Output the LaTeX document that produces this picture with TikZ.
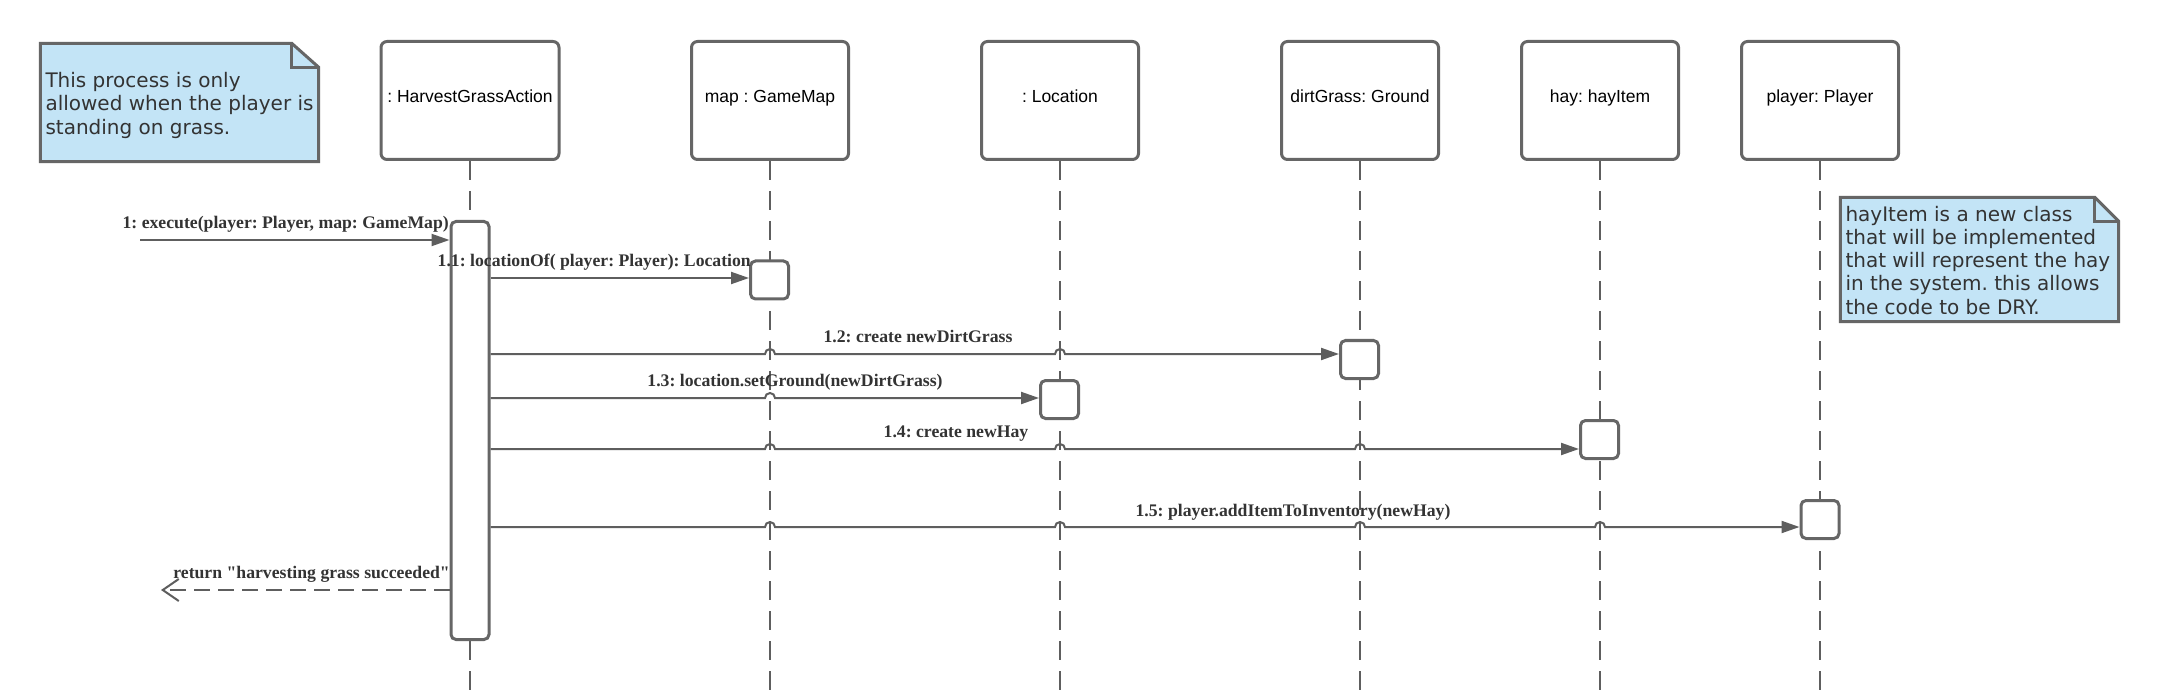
\documentclass[tikz,border=0pt]{standalone}
\usepackage{fontspec}
\setmainfont{Liberation Serif}
\newfontfamily\boxfont{Liberation Sans}
\newfontfamily\notefont{DejaVu Sans}
\usetikzlibrary{arrows.meta}
\definecolor{lc}{HTML}{5E5E5E}
\definecolor{bc}{HTML}{666666}
\definecolor{tc}{HTML}{333333}
\definecolor{notefill}{HTML}{C3E4F6}
\begin{document}
\frenchspacing
\begin{tikzpicture}[x=1pt,y=-1pt,
 head/.style={draw=bc,line width=3pt,rounded corners=6pt,fill=white,minimum width=157pt,minimum height=118pt,inner sep=0pt,text height=13pt,text depth=8pt,font=\boxfont\fontsize{17.5}{21}\selectfont,text=black},
 act/.style={draw=bc,line width=3pt,rounded corners=5pt,fill=white,minimum width=38pt,minimum height=38pt,inner sep=0pt},
 life/.style={draw=lc,line width=2pt,dash pattern=on 19pt off 11pt},
 msg/.style={draw=lc,line width=2pt,-{Triangle[length=18pt,width=12pt]}},
 ret/.style={draw=lc,line width=2pt,dash pattern=on 16pt off 8pt,-{Straight Barb[length=16pt,width=22pt]}},
 lbl/.style={font=\fontsize{17.7}{20}\selectfont\bfseries\frenchspacing,text=tc,inner sep=0pt},
 notebox/.style={minimum width=278pt,inner sep=0pt},
 noteline/.style={draw=bc,line width=3pt,line join=miter},
 notetext/.style={font=\notefont\fontsize{20}{23.3}\selectfont\frenchspacing,text=tc,align=left,inner sep=0pt}
]
\useasboundingbox[fill=white] (0,0) rectangle (2167,692);

% notes
\node[notebox,minimum height=118pt] (n1) at (179.5,102.5) {};
\draw[noteline,fill=notefill] (n1.north west) -- ([xshift=-27pt]n1.north east) -- ([yshift=-24pt]n1.north east) -- (n1.south east) -- (n1.south west) -- cycle;
\draw[noteline] ([xshift=-27pt]n1.north east) -- ([xshift=-27pt,yshift=-24pt]n1.north east) -- ([yshift=-24pt]n1.north east);
\node[notetext,anchor=west] (t1) at ([xshift=5pt,yshift=-2.7pt]n1.west) {This process is only\\allowed when the player is\\standing on grass.};

\node[notebox,minimum height=124pt] (n2) at (1979.5,259.5) {};
\draw[noteline,fill=notefill] (n2.north west) -- ([xshift=-24pt]n2.north east) -- ([yshift=-24pt]n2.north east) -- (n2.south east) -- (n2.south west) -- cycle;
\draw[noteline] ([xshift=-24pt]n2.north east) -- ([xshift=-24pt,yshift=-24pt]n2.north east) -- ([yshift=-24pt]n2.north east);
\node[notetext,anchor=west] (t2) at ([xshift=5pt,yshift=-0.7pt]n2.west) {hayItem is a new class\\that will be implemented\\that will represent the hay\\in the system. this allows\\the code to be DRY.};

% heads
\node[head,minimum width=178pt] (h1) at (470,100.5) {: HarvestGrassAction};
\node[head] (h2) at (770,100.5) {map : GameMap};
\node[head] (h3) at (1060,100.5) {: Location};
\node[head] (h4) at (1360,100.5) {dirtGrass: Ground};
\node[head] (h5) at (1600,100.5) {hay: hayItem};
\node[head] (h6) at (1820,100.5) {player: Player};

% lifelines
\coordinate (bot) at (0,692);
\foreach \n in {h1,h2,h3,h4,h5,h6} \draw[life] (\n.south) -- (\n.south |- bot);

% activations
\node[act,minimum height=418pt] (a0) at (470,430.5) {};
\node[act] (a1) at (769.5,280) {};
\node[act] (a2) at (1359.5,359.5) {};
\node[act] (a3) at (1059.5,399.5) {};
\node[act] (a4) at (1599.5,439.5) {};
\node[act] (a5) at (1820,519.5) {};

% messages
\coordinate (src) at (140,240);
\coordinate (m1) at (0,278);
\coordinate (m2) at (0,354);
\coordinate (m3) at (0,398);
\coordinate (m4) at (0,449);
\coordinate (m5) at (0,527);
\coordinate (rend) at (161,590);

\draw[msg] (src) -- (a0.west |- src);
\draw[msg] (a0.east |- m1) -- (a1.west |- m1);
\draw[msg] (a0.east |- m2) -- ([xshift=-5pt]h2.south |- m2) arc[start angle=180,end angle=0,radius=5pt]
  -- ([xshift=-5pt]h3.south |- m2) arc[start angle=180,end angle=0,radius=5pt]
  -- (a2.west |- m2);
\draw[msg] (a0.east |- m3) -- ([xshift=-5pt]h2.south |- m3) arc[start angle=180,end angle=0,radius=5pt]
  -- (a3.west |- m3);
\draw[msg] (a0.east |- m4) -- ([xshift=-5pt]h2.south |- m4) arc[start angle=180,end angle=0,radius=5pt]
  -- ([xshift=-5pt]h3.south |- m4) arc[start angle=180,end angle=0,radius=5pt]
  -- ([xshift=-5pt]h4.south |- m4) arc[start angle=180,end angle=0,radius=5pt]
  -- (a4.west |- m4);
\draw[msg] (a0.east |- m5) -- ([xshift=-5pt]h2.south |- m5) arc[start angle=180,end angle=0,radius=5pt]
  -- ([xshift=-5pt]h3.south |- m5) arc[start angle=180,end angle=0,radius=5pt]
  -- ([xshift=-5pt]h4.south |- m5) arc[start angle=180,end angle=0,radius=5pt]
  -- ([xshift=-5pt]h5.south |- m5) arc[start angle=180,end angle=0,radius=5pt]
  -- (a5.west |- m5);
\draw[ret] (a0.west |- rend) -- (rend);

% labels
\node[lbl,anchor=base east] (l0) at (449,229) {1: execute(player: Player, map: GameMap)};
\node[lbl,anchor=base east] (l1) at (751,267) {1.1: locationOf( player: Player): Location};
\node[lbl,anchor=base] (l2) at (918,342) {1.2: create newDirtGrass};
\node[lbl,anchor=base] (l3) at (795,386) {1.3: location.setGround(newDirtGrass)};
\node[lbl,anchor=base] (l4) at (956,437) {1.4: create newHay};
\node[lbl,anchor=base] (l5) at (1293,516) {1.5: player.addItemToInventory(newHay)};
\node[lbl,anchor=base east] (lr) at (450,578) {return \textquotedbl harvesting grass succeeded\textquotedbl};
\end{tikzpicture}
\end{document}
